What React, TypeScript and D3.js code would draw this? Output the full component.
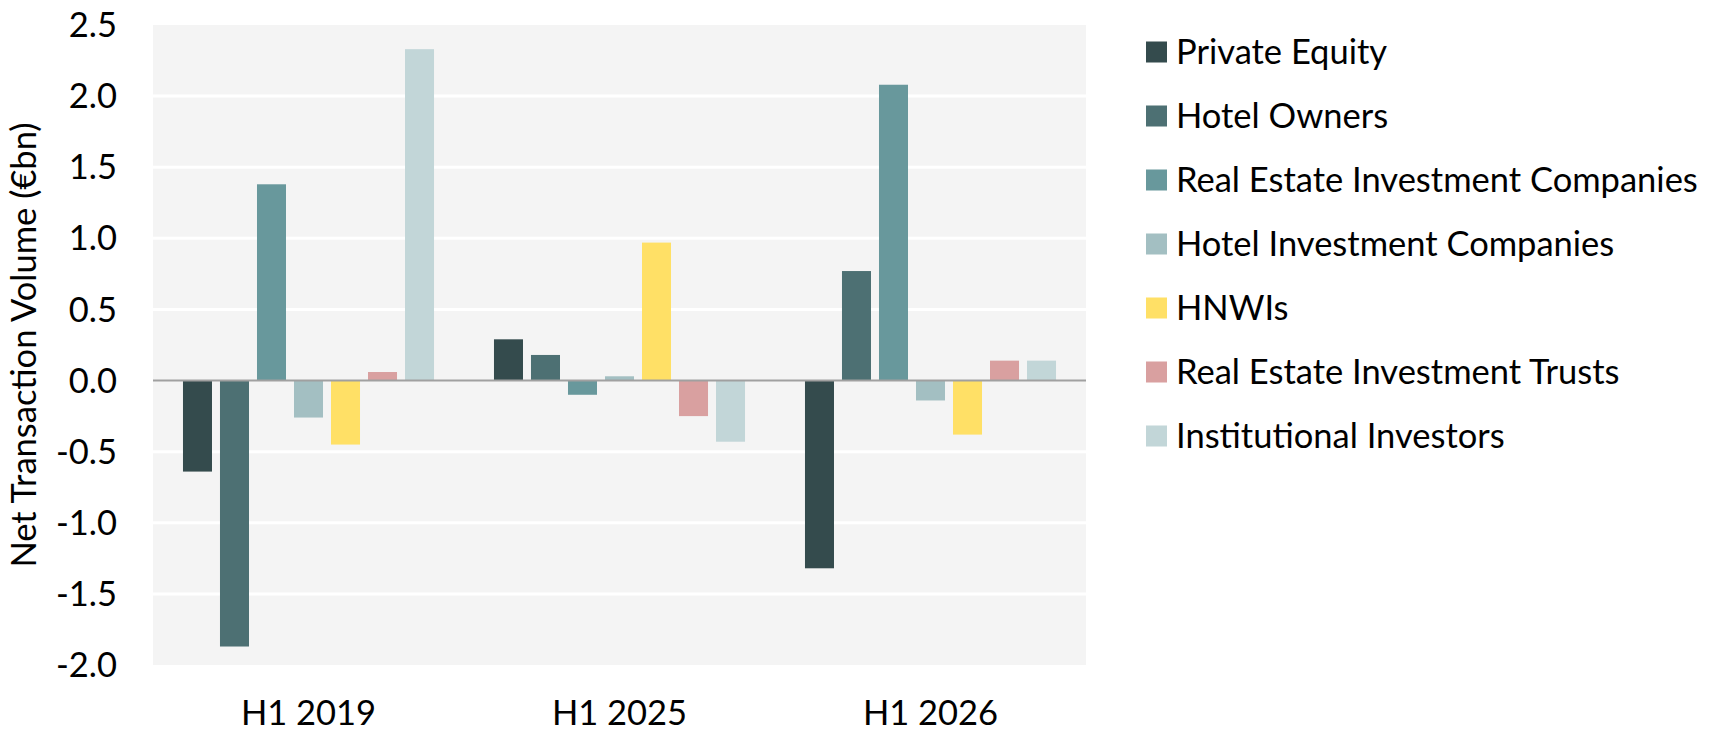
import React, { useEffect, useRef } from "react";
import * as d3 from "d3";

const periods = ["H1 2019", "H1 2025", "H1 2026"];

const investorTypes = [
  "Private Equity",
  "Hotel Owners",
  "Real Estate Investment Companies",
  "Hotel Investment Companies",
  "HNWIs",
  "Real Estate Investment Trusts",
  "Institutional Investors",
];

const colors = ["#344b4d", "#4d7073", "#68989c", "#a3bfc2", "#ffe066", "#d9a0a0", "#c2d6d8"];

// net volume per investor type, one array per period (in €bn)
const h12019 = [-0.64, -1.87, 1.38, -0.26, -0.45, 0.06, 2.33];
const h12025 = [0.29, 0.18, -0.1, 0.03, 0.97, -0.25, -0.43];
const h12026 = [-1.32, 0.77, 2.08, -0.14, -0.38, 0.14, 0.14];

const yTicks = [-2.0, -1.5, -1.0, -0.5, 0.0, 0.5, 1.0, 1.5, 2.0, 2.5];

const FONT = "Lato, 'Open Sans', sans-serif";
const FONT_SIZE = 34.5;

const App: React.FC = () => {
  const svgRef = useRef<SVGSVGElement>(null);

  useEffect(() => {
    if (!svgRef.current) return;
    const svg = d3.select(svgRef.current);
    svg.selectAll("*").remove();

    const width = 1726;
    const height = 740;
    const plot = { left: 153, right: 1086, top: 25, bottom: 665 };

    const data = [h12019, h12025, h12026].map((vals, i) => ({
      period: periods[i],
      values: vals.map((v, j) => ({ key: investorTypes[j], value: v, color: colors[j] })),
    }));

    const x0 = d3.scaleBand().domain(periods).range([plot.left, plot.right]);
    const x1 = d3
      .scaleBand()
      .domain(investorTypes)
      .range([0, x0.bandwidth()])
      .paddingInner(0.216)
      .paddingOuter(0.81);
    const y = d3.scaleLinear().domain([-2, 2.5]).range([plot.bottom, plot.top]);

    svg.attr("viewBox", `0 0 ${width} ${height}`).attr("width", width).attr("height", height);

    // plot background
    svg.append("rect")
      .attr("x", plot.left)
      .attr("y", plot.top)
      .attr("width", plot.right - plot.left)
      .attr("height", plot.bottom - plot.top)
      .attr("fill", "#f4f4f4");

    // gridlines
    svg.append("g")
      .selectAll("line")
      .data(yTicks.filter(t => t !== 0 && t !== 2.5 && t !== -2))
      .enter().append("line")
      .attr("x1", plot.left)
      .attr("x2", plot.right)
      .attr("y1", d => y(d))
      .attr("y2", d => y(d))
      .attr("stroke", "#ffffff")
      .attr("stroke-width", 3);

    // tick labels
    svg.append("g")
      .selectAll("text")
      .data(yTicks)
      .enter().append("text")
      .attr("x", 117)
      .attr("y", d => y(d))
      .attr("dy", "0.35em")
      .attr("text-anchor", "end")
      .attr("font-family", FONT)
      .attr("font-size", FONT_SIZE)
      .attr("fill", "#000")
      .text(d => d.toFixed(1));

    // bars
    const group = svg.append("g")
      .selectAll("g")
      .data(data)
      .enter().append("g")
      .attr("transform", d => `translate(${x0(d.period)},0)`);

    group.selectAll("rect")
      .data(d => d.values)
      .enter().append("rect")
      .attr("x", d => x1(d.key) as number)
      .attr("width", x1.bandwidth())
      .attr("y", d => y(Math.max(0, d.value)))
      .attr("height", d => Math.abs(y(d.value) - y(0)))
      .attr("fill", d => d.color);

    // zero line
    svg.append("line")
      .attr("x1", plot.left)
      .attr("x2", plot.right)
      .attr("y1", y(0))
      .attr("y2", y(0))
      .attr("stroke", "#a0a0a0")
      .attr("stroke-width", 2);

    // category labels
    svg.append("g")
      .selectAll("text")
      .data(periods)
      .enter().append("text")
      .attr("x", d => (x0(d) as number) + x0.bandwidth() / 2)
      .attr("y", 725)
      .attr("text-anchor", "middle")
      .attr("font-family", FONT)
      .attr("font-size", FONT_SIZE)
      .attr("fill", "#000")
      .text(d => d);

    // y axis title
    svg.append("text")
      .attr("transform", `translate(36,${(plot.top + plot.bottom) / 2}) rotate(-90)`)
      .attr("text-anchor", "middle")
      .attr("font-family", FONT)
      .attr("font-size", FONT_SIZE)
      .attr("fill", "#000")
      .text("Net Transaction Volume (€bn)");

    // legend
    const legend = svg.append("g")
      .selectAll("g")
      .data(investorTypes)
      .enter().append("g")
      .attr("transform", (d, i) => `translate(1146,${52 + i * 64})`);

    legend.append("rect")
      .attr("x", 0)
      .attr("y", -10.5)
      .attr("width", 21)
      .attr("height", 21)
      .attr("fill", (d, i) => colors[i]);

    legend.append("text")
      .attr("x", 30)
      .attr("y", 0)
      .attr("dy", "0.35em")
      .attr("font-family", FONT)
      .attr("font-size", FONT_SIZE)
      .attr("fill", "#000")
      .text(d => d);
  }, []);

  return (
    <svg
      ref={svgRef}
      style={{ position: "absolute", left: 0, top: 0, display: "block", background: "#fff" }}
    />
  );
};

export default App;
